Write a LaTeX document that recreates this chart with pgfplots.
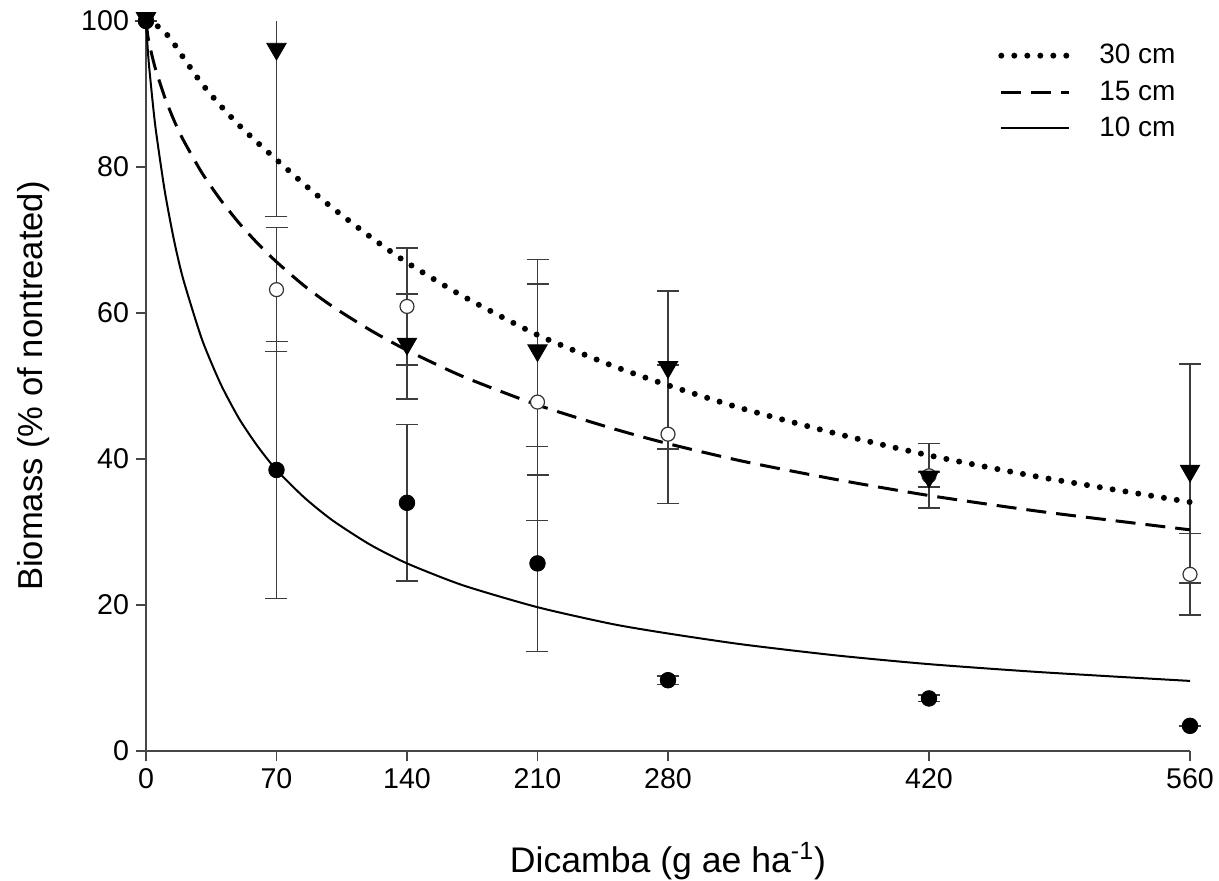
\documentclass[border=0pt]{standalone}
\usepackage{fontspec}
\setmainfont{Liberation Sans}
\usepackage{pgfplots}
\pgfplotsset{compat=1.18}
\definecolor{errc}{RGB}{60,60,60}
\definecolor{axc}{RGB}{70,70,70}

% fitted curves
\pgfplotstableread{
x y
0 100
5 99.5
10 98.5
15 96.9
20 95.0
30 91.4
40 88.4
50 85.7
60 83.3
70 81.0
85 77.6
100 74.4
120 70.5
140 66.9
170 62.3
210 57.0
250 52.8
280 50.1
320 46.9
370 43.5
420 40.5
480 37.5
560 34.1
}\curveA
\pgfplotstableread{
x y
0 100
1 97.9
2 96.6
5 93.5
10 89.6
15 86.4
20 83.7
30 79.2
40 75.5
50 72.3
60 69.5
70 67.0
85 63.7
100 60.9
120 57.7
140 54.9
170 51.3
210 47.4
250 44.2
280 42.1
320 39.7
370 37.2
420 35.0
480 32.8
560 30.3
}\curveB
\pgfplotstableread{
x y
0 100
1 95.9
2 92.9
5 85.6
10 76.8
15 70.0
20 64.6
30 56.4
40 50.3
50 45.5
60 41.7
70 38.5
85 34.7
100 31.6
120 28.3
140 25.7
170 22.7
210 19.7
250 17.4
280 16.1
320 14.6
370 13.1
420 11.9
480 10.8
560 9.6
}\curveC
% observed means and errors
\pgfplotstableread{
x y e
0 100 0
70 95.8 22.6
140 55.4 7.2
210 54.5 12.8
280 52.2 10.8
420 37.2 1.0
560 38.0 15.0
}\obsA
\pgfplotstableread{
x y e
140 55.4 7.2
210 54.5 12.8
280 52.2 10.8
420 37.2 1.0
560 38.0 15.0
}\errA
\pgfplotstableread{
x y e
0 100 0
70 63.2 8.5
140 60.9 8.0
210 47.8 16.2
280 43.4 9.5
420 37.7 4.4
560 24.2 5.6
}\obsB
\pgfplotstableread{
x y e
0 100 0
70 38.5 17.6
140 34.0 10.7
210 25.7 12.1
280 9.7 0.6
420 7.2 0.45
560 3.45 0
}\obsC

\begin{document}
\begin{tikzpicture}
\begin{axis}[
  scale only axis, width=522pt, height=365pt,
  xmin=0, xmax=560, ymin=0, ymax=100,
  clip=false,
  axis x line*=bottom, axis y line*=left,
  axis line style={axc, line width=0.8pt, -},
  xtick={0,70,140,210,280,420,560},
  ytick={0,20,40,60,80,100},
  tick align=outside, major tick length=5pt,
  every tick/.style={axc, line width=0.8pt},
  tick label style={font=\fontsize{14.3}{14.3}\selectfont},
  /pgf/number format/assume math mode=true,
  xlabel={Dicamba (g ae ha\textsuperscript{-1})},
  ylabel={Biomass (\% of nontreated)},
  xlabel style={at={(axis description cs:0.5,-0.1658)}, anchor=base, font=\fontsize{17.8}{17.8}\selectfont},
  ylabel style={at={(axis description cs:-0.0987,0.5)}, anchor=base, font=\fontsize{17.3}{17.3}\selectfont},
  legend image code/.code={\draw[#1] (0pt,0pt) -- (34pt,0pt);},
  legend style={at={(axis description cs:0.816,0.974)}, anchor=north west, draw=none, fill=none,
    font=\fontsize{14}{14}\selectfont, row sep=3pt, column sep=11.5pt, inner sep=0pt},
  legend cell align=left,
  errbar/.style={draw=none, forget plot, mark=none,
    error bars/.cd, y dir=both, y explicit,
    error bar style={errc, line width=0.75pt},
    error mark options={rotate=90, mark size=5.5pt, errc, line width=0.75pt}},
]
\addlegendimage{black, line width=3pt, line cap=round, dash pattern=on 0pt off 6.5pt}
\addlegendentry{30 cm}
\addlegendimage{black, line width=1.5pt, dash pattern=on 10pt off 5pt}
\addlegendentry{15 cm}
\addlegendimage{black, line width=1pt}
\addlegendentry{10 cm}

% error bars
\addplot[errbar] table[x=x, y=y, y error=e] {\errA};
\addplot[draw=none, forget plot, mark=none,
    error bars/.cd, y dir=minus, y explicit,
    error bar style={errc, line width=0.75pt},
    error mark options={rotate=90, mark size=5.5pt, errc, line width=0.75pt}]
    coordinates {(70,95.8) -= (0,22.6)};
\addplot[errc, line width=0.75pt, forget plot] coordinates {(70,95.8) (70,100)};
\addplot[errbar] table[x=x, y=y, y error=e] {\obsC};
\addplot[errbar] table[x=x, y=y, y error=e] {\obsB};

% markers
\addplot[only marks, forget plot, mark=*, mark size=3.5pt, mark options={fill=white, draw=black!80, line width=0.6pt}] table[x=x,y=y] {\obsB};
\addplot[only marks, forget plot, mark=triangle*, mark size=5.6pt, mark options={rotate=180, yshift=-1.4pt, fill=black, draw=black}] table[x=x,y=y] {\obsA};
\addplot[only marks, forget plot, mark=*, mark size=3.9pt, mark options={fill=black, draw=black}] table[x=x,y=y] {\obsC};

% curves
\addplot[forget plot, black, line width=3pt, line cap=round, dash pattern=on 0pt off 6.5pt, smooth, tension=0.4] table[x=x,y=y] {\curveA};
\addplot[forget plot, black, line width=1.5pt, dash pattern=on 10pt off 5pt, smooth, tension=0.4] table[x=x,y=y] {\curveB};
\addplot[forget plot, black, line width=1pt, smooth, tension=0.4] table[x=x,y=y] {\curveC};
\end{axis}
\pgfresetboundingbox
\path[use as bounding box] (-73pt,-64.5pt) rectangle (536.5pt,375.5pt);
\end{tikzpicture}
\end{document}
